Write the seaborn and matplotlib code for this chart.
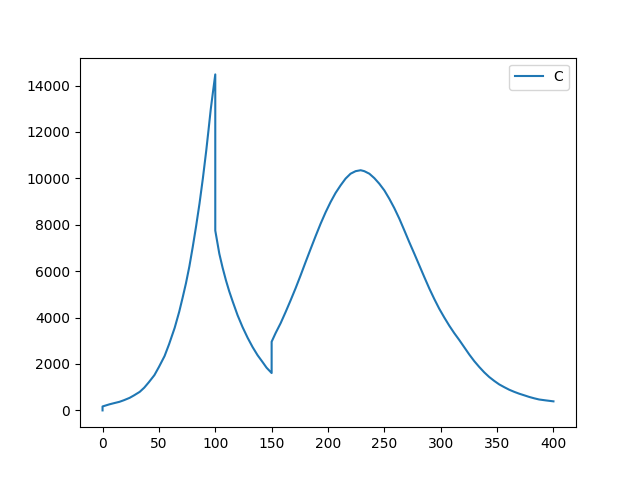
import matplotlib
matplotlib.use("Agg")
import matplotlib.pyplot as plt
import seaborn as sns

# values (three pieces, with jumps at 0, 100 and 150)
x_rise = [0, 0, 6, 10, 15, 19, 24, 28, 33, 37, 41, 46, 50, 55, 59, 64, 68,
          71, 74, 77, 80, 83, 86, 89, 92, 94, 96, 98, 100]
c_rise = [0, 170, 260, 310, 370, 440, 540, 650, 800, 980, 1210, 1520, 1870,
          2340, 2850, 3560, 4250, 4850, 5480, 6200, 7040, 7940, 8910, 10000,
          11200, 12080, 12980, 13740, 14480]

x_fall = [100, 103.6, 106.5, 109.5, 112.4, 115.4, 119.8, 124.2, 128.7, 133.1,
          137.5, 142, 145.5, 150]
c_fall = [7750, 6750, 6150, 5600, 5130, 4700, 4100, 3590, 3130, 2730,
          2380, 2080, 1840, 1610]

x_hump = [150, 153.5, 158, 162.4, 166.8, 171.3, 175.7, 180.1, 184.6, 189,
          193.4, 197.9, 202.3, 206.7, 211.2, 215.6, 220, 224.5, 229, 232.2,
          236.7, 241.1, 245.5, 250, 254.4, 258.8, 263.3, 267.7, 272.1, 276.6,
          281, 285.4, 289.9, 294.3, 298.7, 303.2, 307.6, 312, 316.5, 320.9,
          325.3, 329.8, 334.2, 338.6, 343, 347.5, 351.9, 356.4, 360.8, 365.2,
          369.6, 374.1, 378.5, 383, 387.3, 393.4, 400]
c_hump = [2960, 3330, 3760, 4240, 4740, 5270, 5820, 6390, 6960, 7510,
          8040, 8540, 8980, 9370, 9700, 9990, 10200, 10310, 10350, 10310,
          10200, 10010, 9770, 9480, 9120, 8720, 8260, 7760, 7250, 6750,
          6250, 5750, 5250, 4800, 4380, 4000, 3650, 3330, 3030, 2720,
          2410, 2120, 1870, 1640, 1440, 1270, 1120, 1000, 890, 800,
          720, 650, 580, 520, 470, 430, 390]

x = x_rise + x_fall + x_hump
c = c_rise + c_fall + c_hump

fig, ax = plt.subplots(figsize=(6.4, 4.8), dpi=100)
sns.lineplot(x=x, y=c, estimator=None, sort=False, label="C", ax=ax)
ax.legend(loc="upper right")
fig.savefig("out.png")
